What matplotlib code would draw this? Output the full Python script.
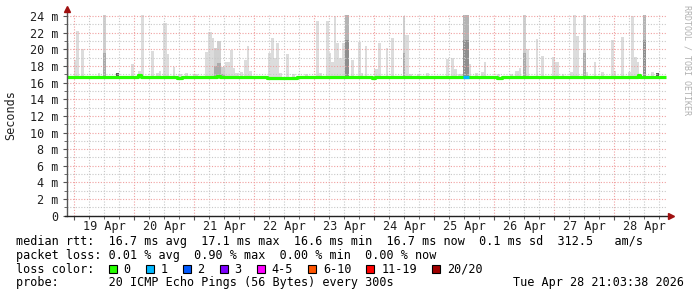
import datetime as dt
import matplotlib
matplotlib.use('Agg')
import matplotlib.pyplot as plt
import matplotlib.dates as mdates
from matplotlib.patches import Rectangle
from matplotlib.ticker import MultipleLocator, FuncFormatter, NullFormatter

# 10 day window ending at the probe timestamp
end_time = dt.datetime(2026, 4, 28, 21, 3, 38)
start_time = end_time - dt.timedelta(days=10)

# smoke columns (hours after start_time), top of the smoke in ms, shade level
smoke_start = [0.0, 2.8, 3.6, 5.6, 12.4, 14.4, 19.6, 25.6, 28.4, 29.6, 33.6, 35.6, 36.8,
               38.4, 40.0, 42.4, 44.4, 47.2, 50.4, 55.2, 56.4, 58.0, 58.8, 60.0, 61.6,
               63.2, 65.2, 66.4, 67.2, 69.2, 70.8, 72.0, 72.8, 80.4, 81.6, 82.8, 83.6,
               84.8, 87.6, 90.0, 95.2, 99.6, 100.8, 103.6, 104.8, 105.6, 106.8, 107.6,
               108.8, 110.0, 111.2, 113.6, 116.4, 117.6, 119.2, 122.8, 124.4, 127.6,
               129.6, 134.4, 135.2, 136.8, 140.0, 143.6, 151.6, 153.6, 154.8, 156.4,
               158.4, 160.8, 163.2, 165.6, 166.8, 172.0, 177.2, 179.2, 180.8, 182.4,
               183.6, 187.6, 189.6, 194.0, 195.2, 198.0, 201.2, 202.4, 203.6, 206.4,
               207.6, 210.8, 213.6, 217.6, 218.8, 221.6, 224.4, 225.6, 226.8, 228.0,
               230.4, 233.6, 235.6]
smoke_end = [0.8, 3.6, 4.8, 6.8, 13.2, 15.6, 20.8, 26.8, 29.6, 30.8, 34.8, 36.8, 37.6,
             40.0, 40.8, 43.2, 46.0, 48.4, 52.4, 56.4, 58.0, 58.8, 60.0, 61.6, 63.2,
             65.2, 66.4, 67.2, 68.8, 70.4, 72.0, 72.8, 74.0, 81.6, 82.8, 83.6, 84.8,
             86.0, 88.8, 91.2, 96.4, 100.8, 102.0, 104.8, 105.6, 106.8, 107.6, 108.8,
             110.0, 111.2, 112.8, 114.8, 117.6, 118.4, 120.0, 124.4, 125.6, 128.4,
             130.8, 135.2, 136.8, 138.0, 141.2, 144.8, 152.8, 154.8, 156.0, 158.4,
             160.8, 161.6, 164.4, 166.8, 167.6, 173.2, 178.4, 180.8, 181.6, 183.6,
             184.8, 188.4, 190.8, 195.2, 196.8, 198.8, 202.4, 203.6, 204.8, 207.6,
             208.4, 211.6, 214.8, 218.8, 219.6, 222.8, 225.6, 226.8, 228.0, 228.8,
             231.6, 234.8, 236.8]
smoke_top = [20.7, 18.7, 22.2, 20.0, 17.2, 24.2, 17.1, 18.2, 17.4, 24.2, 19.8, 17.1, 17.4,
             23.2, 19.4, 17.9, 17.0, 17.1, 17.0, 19.7, 22.1, 21.3, 20.1, 21.0, 17.9,
             18.5, 19.9, 17.7, 17.1, 17.3, 18.7, 20.4, 17.4, 19.5, 21.3, 19.0, 20.8,
             17.1, 19.4, 17.0, 17.0, 23.4, 17.1, 23.4, 19.5, 18.5, 24.0, 20.7,
             19.0, 20.7, 24.2, 18.7, 20.9, 17.1, 20.4, 17.6, 20.8, 20.1,
             21.4, 24.0, 21.7, 17.0, 17.0, 17.1, 18.8, 18.9, 17.6, 17.0,
             24.2, 18.2, 17.1, 17.3, 18.5, 17.0, 17.0, 17.4, 17.8, 24.2,
             20.0, 21.2, 19.2, 19.1, 18.5, 17.0, 17.3, 24.2, 21.6, 24.2,
             17.3, 18.5, 17.3, 21.1, 17.4, 21.5, 17.3, 24.0, 19.1, 18.5,
             24.2, 17.3, 17.1]
smoke_shade = [0, 0, 0, 0, 0, 1, 3, 0, 0, 0, 0, 0, 0,
               0, 0, 0, 0, 0, 0, 0, 0, 0, 1, 1, 1,
               0, 0, 0, 0, 0, 0, 0, 0, 0, 0, 0, 0,
               0, 0, 0, 0, 0, 0, 0, 0, 0, 0, 0,
               0, 0, 2, 0, 0, 0, 0, 0, 0, 0,
               0, 1, 0, 0, 0, 0, 0, 0, 0, 0,
               2, 0, 0, 0, 0, 0, 0, 0, 0, 1,
               0, 0, 0, 0, 0, 0, 0, 0, 0, 1,
               0, 0, 0, 0, 0, 0, 0, 0, 0, 0,
               2, 0, 3]
smoke_floor = 16.5

# median rtt, step series (hours after start_time) and lost pings of 20
median_hours = [0, 28.4, 29.6, 44.0, 46.0, 60.0, 61.2, 80.0, 92.0, 122.0, 123.2,
                158.4, 160.8, 172.0, 174.0, 228.4, 229.2, 239.6]
median_ms = [16.65, 16.95, 16.65, 16.6, 16.65, 16.8, 16.65, 16.6, 16.65, 16.6, 16.65,
             16.65, 16.65, 16.6, 16.65, 16.9, 16.65, 16.65]
median_loss = [0, 0, 0, 0, 0, 0, 0, 0, 0, 0, 0, 1, 0, 0, 0, 0, 0, 0]

loss_labels = ['0', '1', '2', '3', '4-5', '6-10', '11-19', '20/20']
loss_colors = ['#26ff00', '#00b8ff', '#0059ff', '#7e00ff', '#ff00ff', '#ff5500', '#ff0000', '#a00000']

stats_rtt = "median rtt:  16.7 ms avg  17.1 ms max  16.6 ms min  16.7 ms now  0.1 ms sd  312.5   am/s"
stats_loss = "packet loss: 0.01 % avg  0.90 % max  0.00 % min  0.00 % now"
probe_text = "probe:       20 ICMP Echo Pings (56 Bytes) every 300s"
stamp_text = "Tue Apr 28 21:03:38 2026"

W, H = 697, 297
mono = 'DejaVu Sans Mono'
fs = 8.5


def hours_to_num(h):
    return mdates.date2num(start_time + dt.timedelta(hours=h))


def loss_index(n):
    if n <= 3:
        return n
    if n <= 5:
        return 4
    if n <= 10:
        return 5
    if n <= 19:
        return 6
    return 7


def day_label(v, p):
    d = mdates.num2date(v)
    return d.strftime('%d %b') if d.hour == 12 else ''


fig = plt.figure(figsize=(W / 100, H / 100), dpi=100)
fig.patch.set_facecolor('white')
ax = fig.add_axes([67 / W, (H - 215.7) / H, 600 / W, 201 / H])

# smoke
shade_top = {0: '#dcdcdc', 1: '#d0d0d0', 2: '#b4b4b4', 3: '#5a5a5a'}
shade_low = {1: ('#ababab', 0.4), 2: ('#8e8e8e', 0.6)}
for s, e, top, sh in zip(smoke_start, smoke_end, smoke_top, smoke_shade):
    x0 = hours_to_num(s)
    w = hours_to_num(e) - x0
    ax.bar(x0, top - smoke_floor, width=w, bottom=smoke_floor, align='edge',
           color=shade_top[sh], linewidth=0, zorder=1)
    if sh in shade_low:
        c, frac = shade_low[sh]
        ax.bar(x0, (top - smoke_floor) * frac, width=w, bottom=smoke_floor, align='edge',
               color=c, linewidth=0, zorder=1)

# grid
t0 = mdates.date2num(start_time)
t1 = mdates.date2num(end_time)
ax.set_xlim(t0, t1)
ax.set_ylim(0, 24.16)
ax.xaxis.set_major_locator(mdates.DayLocator())
ax.xaxis.set_minor_locator(mdates.HourLocator(byhour=[6, 12, 18]))
ax.xaxis.set_major_formatter(NullFormatter())
ax.xaxis.set_minor_formatter(FuncFormatter(day_label))
ax.yaxis.set_major_locator(MultipleLocator(2))
ax.yaxis.set_minor_locator(MultipleLocator(1))
ax.yaxis.set_major_formatter(FuncFormatter(lambda v, p: '0' if v == 0 else '%d m' % v))

ax.grid(which='major', color='#f0a0a0', linestyle=(0, (1, 1.5)), linewidth=0.8, zorder=2)
ax.grid(which='minor', color='#c8c8c8', linestyle=(0, (1, 1.5)), linewidth=0.8, zorder=2)
ax.set_axisbelow(False)

# median line coloured by loss
ax.step([hours_to_num(h) for h in median_hours], median_ms, where='post',
        color=loss_colors[0], linewidth=2.3, zorder=4, solid_capstyle='butt')
for i in range(len(median_hours) - 1):
    if median_loss[i] > 0:
        ax.hlines(median_ms[i], hours_to_num(median_hours[i]), hours_to_num(median_hours[i + 1]),
                  color=loss_colors[loss_index(median_loss[i])], linewidth=2.3, zorder=5)

# axes and arrows
for sp in ax.spines.values():
    sp.set_visible(False)
ax.plot([0, 0], [0, 1.03], color='#555555', linewidth=1, transform=ax.transAxes,
        clip_on=False, zorder=6)
ax.plot([-0.004, 1.007], [0, 0], color='#222222', linewidth=1, transform=ax.transAxes,
        clip_on=False, zorder=6)
ax.plot(0, 1.03, marker='^', color='#a01010', markersize=4, transform=ax.transAxes,
        clip_on=False, zorder=7)
ax.plot(1.007, 0, marker='>', color='#a01010', markersize=4, transform=ax.transAxes,
        clip_on=False, zorder=7)

ax.tick_params(axis='both', which='both', colors='#555555', labelcolor='#202020',
               labelsize=fs, direction='out')
ax.tick_params(axis='both', which='major', length=3)
ax.tick_params(axis='both', which='minor', length=2)
ax.tick_params(axis='y', which='major', pad=3)
ax.tick_params(axis='x', which='minor', pad=1)
for lab in ax.get_xticklabels(minor=True) + ax.get_yticklabels():
    lab.set_family(mono)

fig.text(11 / W, 1 - 115 / H, 'Seconds', rotation=90, ha='center', va='center',
         family=mono, fontsize=fs, color='#202020')
fig.text(687 / W, 1 - 5 / H, 'RRDTOOL / TOBI OETIKER', rotation=270, ha='center', va='top',
         family=mono, fontsize=6, color='#b0b0b0')

# legend block
fig.text(16 / W, 1 - 241.7 / H, stats_rtt, ha='left', va='center', family=mono, fontsize=fs)
fig.text(16 / W, 1 - 255.3 / H, stats_loss, ha='left', va='center', family=mono, fontsize=fs)
fig.text(16 / W, 1 - 269.3 / H, 'loss color:', ha='left', va='center', family=mono, fontsize=fs)
fig.text(16 / W, 1 - 282.7 / H, probe_text, ha='left', va='center', family=mono, fontsize=fs)
fig.text(513 / W, 1 - 282.7 / H, stamp_text, ha='left', va='center', family=mono, fontsize=fs)

cw = 7.12
xs = 16 + 13 * cw
for lab, col in zip(loss_labels, loss_colors):
    fig.add_artist(Rectangle((xs / W, 1 - 273.3 / H), 8 / W, 8 / H, facecolor=col,
                             edgecolor='black', linewidth=0.8, transform=fig.transFigure))
    fig.text((xs + 15) / W, 1 - 269.3 / H, lab, ha='left', va='center', family=mono, fontsize=fs)
    xs += 37 + cw * (len(lab) - 1)

fig.savefig('out.png', dpi=100)
